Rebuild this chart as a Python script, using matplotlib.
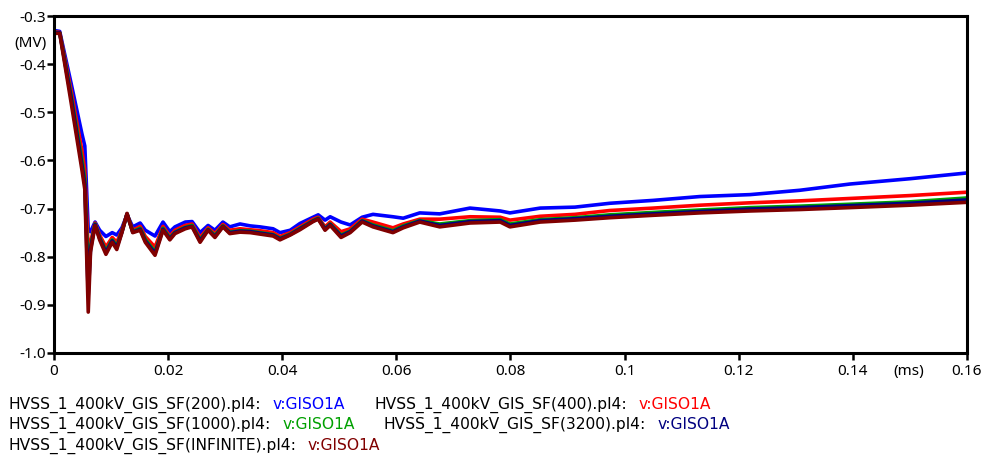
import matplotlib
matplotlib.use("Agg")
import matplotlib.pyplot as plt

plt.rcParams['font.family'] = ['Noto Sans', 'DejaVu Sans']
plt.rcParams['axes.unicode_minus'] = False

# time axis (ms) shared by all five runs
t_ms = [0, 0.001, 0.003, 0.0049, 0.0054, 0.006, 0.0064, 0.0072, 0.008, 0.0091,
        0.0102, 0.011, 0.0119, 0.0128, 0.0138, 0.0151, 0.016, 0.0177, 0.0191, 0.0203,
        0.0212, 0.023, 0.0242, 0.0256, 0.027, 0.0282, 0.0296, 0.0308, 0.0326, 0.0344,
        0.0361, 0.0384, 0.0396, 0.0414, 0.0431, 0.0454, 0.0463, 0.0475, 0.0484, 0.0503,
        0.0519, 0.054, 0.0559, 0.0594, 0.0612, 0.0641, 0.0676, 0.0729, 0.0782, 0.0799,
        0.0852, 0.0913, 0.0974, 0.105, 0.1132, 0.122, 0.1307, 0.1395, 0.15, 0.16]

# v:GISO1A (MV) for each SF case
v_sf200 = [-0.33, -0.332, -0.44, -0.545, -0.57, -0.745, -0.748, -0.728, -0.745, -0.758,
           -0.75, -0.755, -0.74, -0.713, -0.738, -0.73, -0.745, -0.757, -0.728, -0.748,
           -0.738, -0.728, -0.727, -0.75, -0.735, -0.745, -0.728, -0.738, -0.732, -0.736,
           -0.738, -0.742, -0.75, -0.745, -0.731, -0.718, -0.713, -0.724, -0.717, -0.728,
           -0.734, -0.718, -0.712, -0.717, -0.72, -0.709, -0.711, -0.699, -0.705, -0.709,
           -0.699, -0.697, -0.689, -0.683, -0.675, -0.671, -0.662, -0.649, -0.638, -0.626]
v_sf400 = [-0.333, -0.334, -0.455, -0.58, -0.62, -0.79, -0.77, -0.73, -0.755, -0.78,
           -0.76, -0.77, -0.745, -0.712, -0.745, -0.737, -0.758, -0.78, -0.737, -0.757,
           -0.745, -0.735, -0.732, -0.76, -0.74, -0.752, -0.733, -0.745, -0.742, -0.744,
           -0.746, -0.75, -0.758, -0.75, -0.738, -0.722, -0.718, -0.738, -0.728, -0.748,
           -0.742, -0.722, -0.728, -0.74, -0.732, -0.722, -0.722, -0.717, -0.718, -0.724,
           -0.716, -0.712, -0.704, -0.699, -0.693, -0.688, -0.684, -0.679, -0.673, -0.666]
v_sf1000 = [-0.334, -0.335, -0.465, -0.6, -0.64, -0.85, -0.78, -0.732, -0.76, -0.788,
            -0.765, -0.778, -0.748, -0.711, -0.748, -0.741, -0.764, -0.79, -0.741, -0.761,
            -0.749, -0.739, -0.735, -0.765, -0.743, -0.756, -0.736, -0.749, -0.746, -0.747,
            -0.75, -0.754, -0.762, -0.753, -0.741, -0.725, -0.72, -0.742, -0.732, -0.755,
            -0.747, -0.725, -0.734, -0.746, -0.736, -0.725, -0.732, -0.725, -0.723, -0.732,
            -0.723, -0.719, -0.713, -0.708, -0.703, -0.698, -0.695, -0.691, -0.686, -0.678]
v_sf3200 = [-0.335, -0.335, -0.47, -0.61, -0.65, -0.88, -0.785, -0.733, -0.762, -0.791,
            -0.767, -0.781, -0.749, -0.711, -0.749, -0.743, -0.767, -0.793, -0.743, -0.763,
            -0.75, -0.74, -0.737, -0.767, -0.744, -0.758, -0.737, -0.75, -0.747, -0.748,
            -0.751, -0.755, -0.763, -0.754, -0.742, -0.726, -0.721, -0.743, -0.733, -0.757,
            -0.748, -0.726, -0.736, -0.748, -0.738, -0.726, -0.735, -0.727, -0.725, -0.735,
            -0.725, -0.721, -0.716, -0.711, -0.706, -0.701, -0.698, -0.694, -0.689, -0.682]
v_sfinf = [-0.336, -0.336, -0.48, -0.62, -0.66, -0.915, -0.79, -0.735, -0.765, -0.795,
           -0.77, -0.785, -0.75, -0.71, -0.75, -0.745, -0.77, -0.797, -0.745, -0.765,
           -0.752, -0.742, -0.738, -0.77, -0.745, -0.76, -0.738, -0.752, -0.749, -0.75,
           -0.753, -0.757, -0.765, -0.755, -0.744, -0.727, -0.722, -0.745, -0.735, -0.76,
           -0.75, -0.728, -0.738, -0.75, -0.74, -0.728, -0.738, -0.73, -0.728, -0.738,
           -0.728, -0.724, -0.719, -0.714, -0.709, -0.705, -0.702, -0.698, -0.693, -0.687]

case_names = ['HVSS_1_400kV_GIS_SF(200).pl4:', 'HVSS_1_400kV_GIS_SF(400).pl4:',
              'HVSS_1_400kV_GIS_SF(1000).pl4:', 'HVSS_1_400kV_GIS_SF(3200).pl4:',
              'HVSS_1_400kV_GIS_SF(INFINITE).pl4:']
case_colors = ['#0000ff', '#ff0000', '#00a000', '#000080', '#800000']
case_values = [v_sf200, v_sf400, v_sf1000, v_sf3200, v_sfinf]
var_label = 'v:GISO1A'

W, H = 987, 457
fig = plt.figure(figsize=(W / 100, H / 100), dpi=100)
ax = fig.add_axes([54 / W, 1 - 353 / H, 913 / W, 337 / H])

for vals, col in zip(case_values, case_colors):
    ax.plot(t_ms, vals, color=col, linewidth=2.6, solid_joinstyle='round')

ax.set_xlim(0, 0.16)
ax.set_ylim(-1.0, -0.3)
ax.set_xticks([0, 0.02, 0.04, 0.06, 0.08, 0.1, 0.12, 0.14, 0.16])
ax.set_xticklabels(['0', '0.02', '0.04', '0.06', '0.08', '0.1', '0.12', '0.14', '0.16'])
ax.set_yticks([-1.0, -0.9, -0.8, -0.7, -0.6, -0.5, -0.4, -0.3])
ax.set_yticklabels(['-1.0', '-0.9', '-0.8', '-0.7', '-0.6', '-0.5', '-0.4', '-0.3'])
ax.tick_params(axis='both', direction='out', length=5, width=1.8, labelsize=11, colors='black')
ax.tick_params(axis='y', pad=1)
ax.tick_params(axis='x', pad=3)
for sp in ax.spines.values():
    sp.set_linewidth(2.2)
    sp.set_color('black')

# unit labels
fig.text(31 / W, 1 - 43 / H, '(MV)', fontsize=11, ha='center', va='center')
fig.text(909 / W, 1 - 371 / H, '(ms)', fontsize=11, ha='center', va='center')

# legend rows laid out as flowing text
renderer = fig.canvas.get_renderer()
rows = [[0, 1], [2, 3], [4]]
baselines = [409, 429, 450]
leg_font = dict(fontsize=11.2, family=['DejaVu Sans'], va='baseline')
for row, base in zip(rows, baselines):
    x = 8
    for i in row:
        t = fig.text(x / W, 1 - base / H, case_names[i], **leg_font)
        x += t.get_window_extent(renderer).width + 12
        t2 = fig.text(x / W, 1 - base / H, var_label, color=case_colors[i], **leg_font)
        x += t2.get_window_extent(renderer).width + 29

fig.savefig('out.png', dpi=100)
